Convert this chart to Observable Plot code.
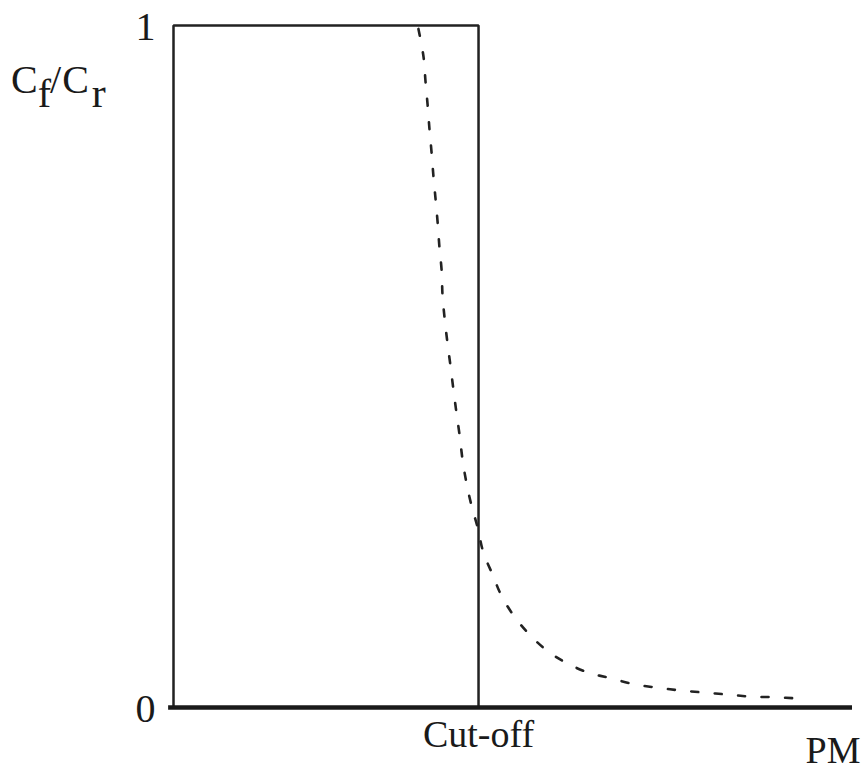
<!DOCTYPE html>
<html>
<head>
<meta charset="utf-8">
<script src="https://cdn.jsdelivr.net/npm/d3@7"></script>
<script src="https://cdn.jsdelivr.net/npm/@observablehq/plot@0.6"></script>
<style>
  html, body { margin: 0; padding: 0; background: #fff; }
  #chart { position: relative; width: 867px; height: 769px; }
</style>
</head>
<body>
<div id="chart"></div>
<script>
// Particle size relative to cut-off (cut-off = 1)
const pmSize = [0.803, 0.820, 0.826, 0.833, 0.839, 0.846, 0.852, 0.859, 0.866, 0.872,
  0.879, 0.882, 0.889, 0.898, 0.908, 0.918, 0.928, 0.938, 0.948, 0.961,
  0.977, 0.997, 1.016, 1.046, 1.075, 1.118, 1.167, 1.220, 1.285, 1.361,
  1.433, 1.511, 1.587, 1.662, 1.738, 1.816, 1.892, 1.974, 2.056];
// Real collection ratio Cf/Cr (dashed curve)
const ratioReal = [0.995, 0.953, 0.919, 0.884, 0.849, 0.814, 0.780, 0.746, 0.711, 0.674,
  0.641, 0.604, 0.570, 0.535, 0.501, 0.465, 0.431, 0.399, 0.362, 0.328,
  0.296, 0.264, 0.227, 0.195, 0.164, 0.133, 0.107, 0.085, 0.066, 0.051,
  0.043, 0.034, 0.029, 0.025, 0.022, 0.019, 0.016, 0.015, 0.013];
// Ideal filter (solid step)
const idealX = [0, 0, 1, 1];
const idealY = [0, 1, 1, 0];
const xMax = 2.226;
const yTickValues = [0, 1];
const xTickValues = [1];
const xTickLabels = ["Cut-off"];
const xLabel = "PM";

const curve = pmSize.map((x, i) => ({x, y: ratioReal[i]}));
const ideal = idealX.map((x, i) => ({x, y: idealY[i]}));

const serif = "'Liberation Serif', 'DejaVu Serif', serif";

const plot = Plot.plot({
  width: 867,
  height: 769,
  marginLeft: 173,
  marginRight: 15,
  marginTop: 25,
  marginBottom: 62,
  style: {fontFamily: serif, color: "#1a1a1a", background: "#fff"},
  x: {domain: [0, xMax], axis: null},
  y: {domain: [0, 1], axis: null},
  marks: [
    Plot.axisY({ticks: yTickValues, tickSize: 0, tickPadding: 18, fontSize: 40, label: null,
      dy: 2, tickFormat: d => String(d)}),
    Plot.axisX({ticks: xTickValues, tickSize: 0, tickPadding: 13, fontSize: 38, label: null,
      tickFormat: d => xTickLabels[xTickValues.indexOf(d)]}),
    Plot.line(ideal, {x: "x", y: "y", stroke: "#222", strokeWidth: 2.5, strokeLinejoin: "miter"}),
    Plot.line(curve, {x: "x", y: "y", stroke: "#222", strokeWidth: 2.6,
      strokeDasharray: "7,16.5", curve: "catmull-rom"}),
    Plot.ruleY([0], {x1: -0.016, x2: xMax, stroke: "#1a1a1a", strokeWidth: 4.5}),
    Plot.text([xLabel], {frameAnchor: "bottom-right", text: d => d, fontSize: 38,
      lineAnchor: "bottom", textAnchor: "end", dx: 8, dy: 55, fill: "#1a1a1a"})
  ]
});

document.getElementById("chart").appendChild(plot);

// Y axis label: Cf/Cr with subscripts
const svg = d3.select(plot);
const lab = svg.append("text")
  .attr("x", 11).attr("y", 93)
  .attr("text-anchor", "start")
  .attr("font-family", serif)
  .attr("font-size", 40)
  .attr("fill", "#1a1a1a");
lab.append("tspan").text("C");
lab.append("tspan").attr("dy", 14).attr("font-size", 40).text("f");
lab.append("tspan").attr("dy", -14).attr("dx", -1).text("/");
lab.append("tspan").attr("dx", 1).text("C");
lab.append("tspan").attr("dy", 14).attr("dx", 3).attr("font-size", 42).text("r");
</script>
</body>
</html>
